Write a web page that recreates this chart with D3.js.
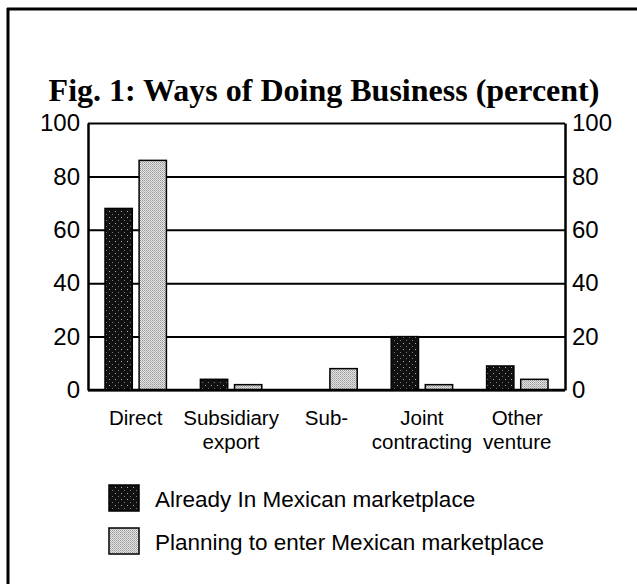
<!DOCTYPE html>
<html>
<head>
<meta charset="utf-8">
<script src="https://cdn.jsdelivr.net/npm/d3@7"></script>
<style>
  html, body { margin: 0; padding: 0; background: #fff; }
  svg { display: block; }
</style>
</head>
<body>
<script>
// ---- data ----
const categories = ["Direct", "Subsidiary", "Sub-", "Joint", "Other"];
const labelLine2 = ["", "export", "", "contracting", "venture"];
const already = [68, 4, 0, 20, 9];
const planning = [86, 2, 8, 2, 4];
const seriesNames = ["Already In Mexican marketplace", "Planning to enter Mexican marketplace"];
const yTicks = [0, 20, 40, 60, 80, 100];
const titleText = "Fig. 1: Ways of Doing Business (percent)";

(function () {
const W = 637, H = 584;
const svg = d3.select("body").append("svg").attr("width", W).attr("height", H);

// patterns
const defs = svg.append("defs");
const pDark = defs.append("pattern").attr("id", "pDark").attr("patternUnits", "userSpaceOnUse")
  .attr("width", 6).attr("height", 6);
pDark.append("rect").attr("width", 6).attr("height", 6).attr("fill", "#111");
pDark.append("rect").attr("x", 1).attr("y", 1).attr("width", 1).attr("height", 1).attr("fill", "#aaa");
pDark.append("rect").attr("x", 4).attr("y", 4).attr("width", 1).attr("height", 1).attr("fill", "#777");
const pLight = defs.append("pattern").attr("id", "pLight").attr("patternUnits", "userSpaceOnUse")
  .attr("width", 2).attr("height", 2);
pLight.append("rect").attr("width", 2).attr("height", 2).attr("fill", "#e4e4e4");
pLight.append("rect").attr("x", 0).attr("y", 0).attr("width", 1).attr("height", 1).attr("fill", "#999");
pLight.append("rect").attr("x", 1).attr("y", 1).attr("width", 1).attr("height", 1).attr("fill", "#b5b5b5");
const fills = ["url(#pDark)", "url(#pLight)"];

// frame
svg.append("line").attr("x1", 8).attr("y1", 8).attr("x2", 8).attr("y2", H)
  .attr("stroke", "#000").attr("stroke-width", 3);
svg.append("line").attr("x1", 7).attr("y1", 9).attr("x2", W).attr("y2", 9)
  .attr("stroke", "#000").attr("stroke-width", 3);

// title
svg.append("text").attr("x", 324).attr("y", 101).attr("text-anchor", "middle")
  .attr("font-family", "'Liberation Serif', 'Times New Roman', serif")
  .attr("font-weight", "bold").attr("font-size", 32)
  .text(titleText);

// scales
const pL = 88, pR = 565, pT = 123, pB = 390;
const x = d3.scaleBand().domain(categories).range([pL, pR]).padding(0);
const xSub = d3.scaleBand().domain([0, 1]).range([17, x.bandwidth() - 17]).paddingInner(0.2);
const y = d3.scaleLinear().domain([0, 100]).range([pB, pT]);

const axisFont = "'Liberation Sans', Arial, Helvetica, sans-serif";

// left axis with grid
const gL = svg.append("g").attr("transform", `translate(${pL},0)`)
  .call(d3.axisLeft(y).tickValues(yTicks).tickSize(-(pR - pL)).tickSizeOuter(0).tickPadding(8).tickFormat(d3.format("d")));
gL.selectAll(".tick line").attr("stroke", "#000").attr("stroke-width", 2);
gL.select(".domain").attr("stroke", "#000").attr("stroke-width", 2.5);
gL.selectAll(".tick text").attr("font-family", axisFont).attr("font-size", 24).attr("fill", "#000");

const gR = svg.append("g").attr("transform", `translate(${pR},0)`)
  .call(d3.axisRight(y).tickValues(yTicks).tickSize(0).tickPadding(7).tickFormat(d3.format("d")));
gR.select(".domain").attr("stroke", "#000").attr("stroke-width", 2.5);
gR.selectAll(".tick text").attr("font-family", axisFont).attr("font-size", 24).attr("fill", "#000");

// bars
const series = [already, planning];
series.forEach((vals, si) => {
  svg.append("g").selectAll("rect").data(vals).join("rect")
    .attr("x", (d, i) => x(categories[i]) + xSub(si))
    .attr("width", xSub.bandwidth())
    .attr("y", d => y(d))
    .attr("height", d => y(0) - y(d))
    .attr("fill", fills[si])
    .attr("stroke", "#000").attr("stroke-width", d => d > 0 ? 1.5 : 0);
});

// baseline
svg.append("line").attr("x1", pL).attr("x2", pR).attr("y1", y(0)).attr("y2", y(0))
  .attr("stroke", "#000").attr("stroke-width", 2.5);

// category labels
const gx = svg.append("g").attr("font-family", axisFont).attr("font-size", 20.5).attr("text-anchor", "middle");
gx.selectAll("text.l1").data(categories).join("text").attr("class", "l1")
  .attr("x", d => x(d) + x.bandwidth() / 2).attr("y", 425).text(d => d);
gx.selectAll("text.l2").data(labelLine2).join("text").attr("class", "l2")
  .attr("x", (d, i) => x(categories[i]) + x.bandwidth() / 2).attr("y", 449).text(d => d);

// legend
const lg = svg.append("g");
seriesNames.forEach((name, i) => {
  const yy = 485 + i * 43;
  lg.append("rect").attr("x", 109).attr("y", yy).attr("width", 30).attr("height", 26)
    .attr("fill", fills[i]).attr("stroke", "#000").attr("stroke-width", 1.5);
  lg.append("text").attr("x", 155).attr("y", yy + 22)
    .attr("font-family", axisFont).attr("font-size", 22.5).text(name);
});
})();
</script>
</body>
</html>
